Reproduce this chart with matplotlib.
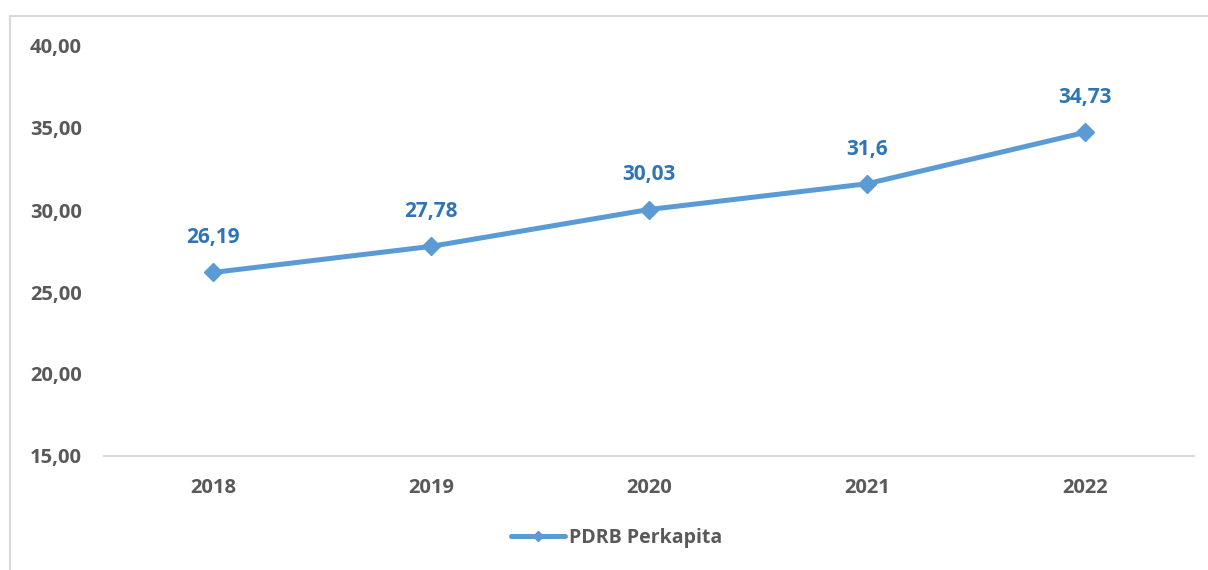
import matplotlib
matplotlib.use("Agg")
from matplotlib import pyplot as plt
from matplotlib.patches import Rectangle

# data
tahun = ["2018", "2019", "2020", "2021", "2022"]
pdrb = [26.19, 27.78, 30.03, 31.6, 34.73]
label = ["26,19", "27,78", "30,03", "31,6", "34,73"]
yticks = [15, 20, 25, 30, 35, 40]

plt.rcParams['font.family'] = ['Open Sans', 'DejaVu Sans']
abu = "#595959"
biru = "#5B9BD5"

fig = plt.figure(figsize=(12.08, 5.70), dpi=100)
# bingkai chart (terpotong di kanan/bawah)
fig.patches.append(Rectangle((10 / 1208, -0.1), 1.2, 1 - 16 / 570 + 0.1,
                             transform=fig.transFigure, fill=False,
                             edgecolor="#D9D9D9", linewidth=1.5))

ax = fig.add_axes([104 / 1208, 114 / 570, 1090 / 1208, 410 / 570])
x = list(range(len(tahun)))
ax.plot(x, pdrb, color=biru, linewidth=3.6, marker="D", markersize=9,
        solid_capstyle="round", label="PDRB Perkapita")
for xi, yi, t in zip(x, pdrb, label):
    ax.annotate(t, (xi, yi), xytext=(0, 25), textcoords="offset points",
                ha="center", va="center", fontsize=15, fontweight="bold",
                color="#2E75B6")

ax.set_xlim(-0.5, len(tahun) - 0.5)
ax.set_ylim(15, 40)
ax.set_yticks(yticks)
ax.set_yticklabels([f"{v:.2f}".replace(".", ",") for v in yticks])
ax.set_xticks(x)
ax.set_xticklabels(tahun)
for s in ["top", "right", "left"]:
    ax.spines[s].set_visible(False)
ax.spines["bottom"].set_color("#D9D9D9")
ax.spines["bottom"].set_linewidth(1.5)
ax.tick_params(length=0, labelsize=14.5, labelcolor=abu)
for t in ax.get_xticklabels() + ax.get_yticklabels():
    t.set_fontweight("bold")
ax.tick_params(axis="x", pad=16)
ax.tick_params(axis="y", pad=16)

leg = ax.legend(loc="center", bbox_to_anchor=(0.47, -0.2), frameon=False,
                prop={"size": 14, "weight": "bold"}, handlelength=2.8,
                handletextpad=0.2, markerscale=0.6)
for t in leg.get_texts():
    t.set_color(abu)

fig.savefig("out.png", dpi=100)
